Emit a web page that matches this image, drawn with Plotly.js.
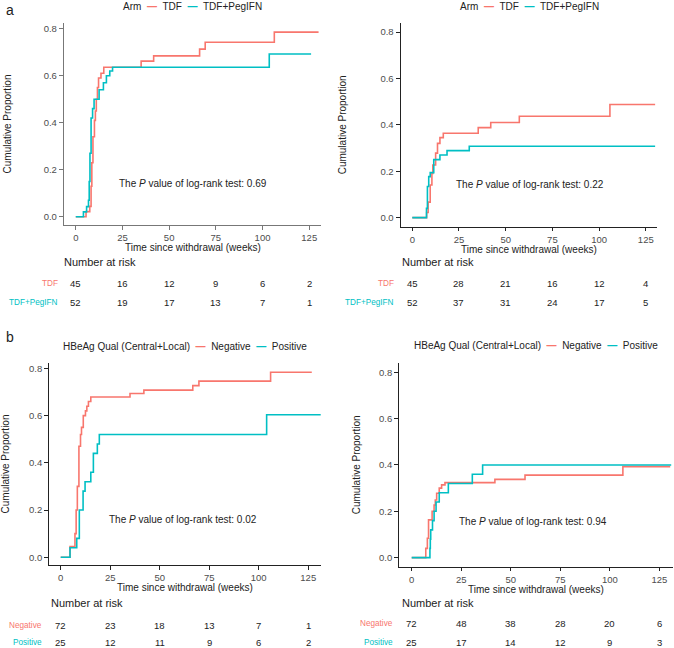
<!DOCTYPE html>
<html>
<head>
<meta charset="utf-8">
<script src="https://cdn.plot.ly/plotly-3.0.1.min.js"></script>
<style>html,body{margin:0;padding:0;background:#fff;} #chart{width:674px;height:648px;}</style>
</head>
<body>
<div id="chart"></div>
<script>
// ---------- data ----------
const riskTimes = [0, 25, 50, 75, 100, 125];
const armLabels = ['TDF', 'TDF+PegIFN'];
const hbeagLabels = ['Negative', 'Positive'];
const pValues = ['0.69', '0.22', '0.02', '0.94'];

// Panel a (left): Arm
const aL_tdf_t = [0, 5.5, 7.5, 8.2, 8.6, 9.2, 10.0, 10.5, 11.0, 11.6, 12.2, 13.5, 15.0, 35.0, 41.7, 66.3, 69.3, 106.3, 130];
const aL_tdf_p = [0, 0.022, 0.044, 0.13, 0.23, 0.34, 0.41, 0.45, 0.50, 0.55, 0.59, 0.61, 0.636, 0.662, 0.684, 0.713, 0.742, 0.785, 0.785];
const aL_peg_t = [0, 4.1, 5.8, 6.8, 7.2, 7.6, 8.2, 9.0, 9.8, 12.5, 14.8, 16.4, 18.2, 19.7, 103.6, 126];
const aL_peg_p = [0, 0.021, 0.043, 0.07, 0.15, 0.27, 0.42, 0.46, 0.50, 0.54, 0.57, 0.60, 0.62, 0.636, 0.692, 0.692];
const aL_risk_tdf = [45, 16, 12, 9, 6, 2];
const aL_risk_peg = [52, 19, 17, 13, 7, 1];

// Panel a (right): Arm
const aR_tdf_t = [0, 7.7, 8.5, 9.6, 10.5, 11.0, 12.5, 13.5, 14.8, 16.6, 35.3, 42.0, 57.3, 105.8, 130];
const aR_tdf_p = [0, 0.022, 0.067, 0.141, 0.19, 0.227, 0.278, 0.32, 0.345, 0.364, 0.388, 0.41, 0.437, 0.488, 0.488];
const aR_peg_t = [0, 7.6, 8.1, 8.8, 9.6, 11.5, 14.8, 18.6, 30.5, 130];
const aR_peg_p = [0, 0.04, 0.134, 0.177, 0.194, 0.25, 0.27, 0.289, 0.308, 0.308];
const aR_risk_tdf = [45, 28, 21, 16, 12, 4];
const aR_risk_peg = [52, 37, 31, 24, 17, 5];

// Panel b (left): HBeAg
const bL_neg_t = [0, 4.7, 7.2, 7.8, 8.4, 9.2, 10.0, 10.5, 11.4, 12.5, 13.2, 14.0, 15.2, 35.0, 42.0, 66.7, 69.8, 106.0, 126.8];
const bL_neg_p = [0, 0.045, 0.10, 0.20, 0.30, 0.47, 0.52, 0.55, 0.60, 0.62, 0.64, 0.66, 0.679, 0.694, 0.708, 0.727, 0.746, 0.784, 0.784];
const bL_pos_t = [0, 4.7, 8.1, 9.4, 11.3, 12.3, 15.2, 16.5, 18.5, 19.5, 104.0, 131.5];
const bL_pos_p = [0, 0.04, 0.08, 0.20, 0.28, 0.32, 0.36, 0.44, 0.48, 0.52, 0.604, 0.604];
const bL_risk_neg = [72, 23, 18, 13, 7, 1];
const bL_risk_pos = [25, 12, 11, 9, 6, 2];

// Panel b (right): HBeAg
const bR_neg_t = [0, 7.1, 7.9, 8.5, 10.3, 11.3, 11.9, 12.6, 13.9, 15.1, 16.8, 42.0, 57.2, 106.6, 130.5];
const bR_neg_p = [0, 0.04, 0.084, 0.163, 0.20, 0.227, 0.249, 0.278, 0.30, 0.314, 0.324, 0.338, 0.356, 0.393, 0.393];
const bR_pos_t = [0, 9.2, 9.4, 9.6, 10.5, 11.3, 12.3, 13.9, 18.5, 30.6, 35.8, 131];
const bR_pos_p = [0, 0.04, 0.08, 0.12, 0.16, 0.20, 0.24, 0.28, 0.32, 0.36, 0.40, 0.40];
const bR_risk_neg = [72, 48, 38, 28, 20, 6];
const bR_risk_pos = [25, 17, 14, 12, 9, 3];

// ---------- styling ----------
const RED = '#F8766D', TEAL = '#00BFC4';
const FONT = 'Liberation Sans, Arial, sans-serif';
const W = 674, H = 648;
const px = v => v / W;           // pixel -> paper x
const py = v => 1 - v / H;       // pixel -> paper y

function km(t, p, name, color, xa, ya) {
  return { x: t, y: p, name: name, type: 'scatter', mode: 'lines',
    line: { shape: 'hv', color: color, width: 1.6 },
    xaxis: xa, yaxis: ya, showlegend: false, hoverinfo: 'skip' };
}

const data = [
  km(aL_tdf_t, aL_tdf_p, armLabels[0], RED, 'x', 'y'),
  km(aL_peg_t, aL_peg_p, armLabels[1], TEAL, 'x', 'y'),
  km(aR_tdf_t, aR_tdf_p, armLabels[0], RED, 'x2', 'y2'),
  km(aR_peg_t, aR_peg_p, armLabels[1], TEAL, 'x2', 'y2'),
  km(bL_neg_t, bL_neg_p, hbeagLabels[0], RED, 'x3', 'y3'),
  km(bL_pos_t, bL_pos_p, hbeagLabels[1], TEAL, 'x3', 'y3'),
  km(bR_neg_t, bR_neg_p, hbeagLabels[0], RED, 'x4', 'y4'),
  km(bR_pos_t, bR_pos_p, hbeagLabels[1], TEAL, 'x4', 'y4')
];

function xAxis(domain, range, anchor, lc) {
  return { domain: domain, range: range, anchor: anchor, tickvals: riskTimes,
    showline: true, linecolor: lc, linewidth: 1.2, ticks: 'outside', ticklen: 3.5,
    tickcolor: lc, tickfont: { size: 9.5, color: '#4d4d4d', family: FONT },
    showgrid: false, zeroline: false };
}
function yAxis(domain, range, anchor, standoff, lc) {
  return { domain: domain, range: range, anchor: anchor,
    tickvals: [0, 0.2, 0.4, 0.6, 0.8], ticktext: ['0.0', '0.2', '0.4', '0.6', '0.8'],
    showline: true, linecolor: lc, linewidth: 1.2, ticks: 'outside', ticklen: 4,
    tickcolor: lc, tickfont: { size: 9.5, color: '#4d4d4d', family: FONT },
    showgrid: false, zeroline: false,
    title: { text: 'Cumulative Proportion', font: { size: 10, color: '#222', family: FONT }, standoff: standoff } };
}

const panels = [
  { xa: 'x', ya: 'y', p: pValues[0], pxy: [63, 0.14], riskY: 262, rows: [284, 302], labelX: 60, left: 62,
    labels: armLabels, risks: [aL_risk_tdf, aL_risk_peg], legTitle: 'Arm', legX: 192.5, legY: 6.5,
    xtitle: [193, 247.5] },
  { xa: 'x2', ya: 'y2', p: pValues[1], pxy: [63, 0.141], riskY: 262, rows: [283, 302], labelX: 396, left: 400,
    labels: armLabels, risks: [aR_risk_tdf, aR_risk_peg], legTitle: 'Arm', legX: 529, legY: 6.5,
    xtitle: [528.8, 250] },
  { xa: 'x3', ya: 'y3', p: pValues[2], pxy: [61.6, 0.158], riskY: 602.7, rows: [625, 642.7], labelX: 44, left: 49,
    labels: hbeagLabels, risks: [bL_risk_neg, bL_risk_pos], legTitle: 'HBeAg Qual (Central+Local)', legX: 185, legY: 346,
    xtitle: [185, 587.5] },
  { xa: 'x4', ya: 'y4', p: pValues[3], pxy: [61, 0.155], riskY: 602.7, rows: [623, 642.7], labelX: 395, left: 400,
    labels: hbeagLabels, risks: [bR_risk_neg, bR_risk_pos], legTitle: 'HBeAg Qual (Central+Local)', legX: 535.5, legY: 345.5,
    xtitle: [536, 589.5] }
];

const annotations = [];
const baseFont = { family: FONT, size: 10, color: '#222' };
panels.forEach(pn => {
  // x axis title
  annotations.push({ xref: 'paper', yref: 'paper', x: px(pn.xtitle[0]), y: py(pn.xtitle[1]), showarrow: false,
    xanchor: 'center', yanchor: 'middle', text: 'Time since withdrawal (weeks)', font: baseFont });
  // p-value text
  annotations.push({ xref: pn.xa, yref: pn.ya, x: pn.pxy[0], y: pn.pxy[1], showarrow: false,
    text: 'The <i>P</i> value of log-rank test: ' + pn.p, font: baseFont });
  // legend
  annotations.push({ xref: 'paper', yref: 'paper', x: px(pn.legX), y: py(pn.legY), showarrow: false,
    xanchor: 'center', yanchor: 'middle',
    text: pn.legTitle + '\u00a0\u00a0<span style="color:' + RED + '"><b>\u2014</b></span>\u00a0\u00a0' + pn.labels[0] +
      '\u00a0\u00a0<span style="color:' + TEAL + '"><b>\u2014</b></span>\u00a0\u00a0' + pn.labels[1],
    font: baseFont });
  // risk table title
  annotations.push({ xref: 'paper', yref: 'paper', x: px(pn.left), y: py(pn.riskY), showarrow: false,
    xanchor: 'left', yanchor: 'middle', text: 'Number at risk', font: { family: FONT, size: 11, color: '#222' } });
  // risk rows
  [RED, TEAL].forEach((col, gi) => {
    annotations.push({ xref: 'paper', yref: 'paper', x: px(pn.labelX), y: py(pn.rows[gi]), showarrow: false,
      xanchor: 'right', yanchor: 'middle', text: pn.labels[gi], font: { family: FONT, size: 8.2, color: col } });
    pn.risks[gi].forEach((n, k) => {
      annotations.push({ xref: pn.xa, yref: 'paper', x: riskTimes[k], y: py(pn.rows[gi]), showarrow: false,
        xanchor: 'center', yanchor: 'middle', text: String(n), font: { family: FONT, size: 9.5, color: '#222' } });
    });
  });
});
// panel letters
annotations.push({ xref: 'paper', yref: 'paper', x: px(9.5), y: py(10), showarrow: false, xanchor: 'center', yanchor: 'middle',
  text: 'a', font: { family: FONT, size: 14, color: '#222' } });
annotations.push({ xref: 'paper', yref: 'paper', x: px(9.5), y: py(337), showarrow: false, xanchor: 'center', yanchor: 'middle',
  text: 'b', font: { family: FONT, size: 14, color: '#222' } });

const layout = {
  width: W, height: H, margin: { l: 0, r: 0, t: 0, b: 0 },
  paper_bgcolor: '#fff', plot_bgcolor: '#fff', showlegend: false,
  font: baseFont,
  xaxis: xAxis([px(64), px(321)], [-6.3, 131.3], 'y', '#777'),
  yaxis: yAxis([py(225), py(23)], [-0.035, 0.824], 'x', 30, '#777'),
  xaxis2: xAxis([px(400.7), px(657)], [-6.2, 131], 'y2', '#222'),
  yaxis2: yAxis([py(226.7), py(23)], [-0.039, 0.839], 'x2', 31, '#222'),
  xaxis3: xAxis([px(49.3), px(320.7)], [-5.76, 131.3], 'y3', '#222'),
  yaxis3: yAxis([py(565), py(363)], [-0.033, 0.823], 'x3', 19, '#222'),
  xaxis4: xAxis([px(399.3), px(673)], [-6.26, 131.9], 'y4', '#222'),
  yaxis4: yAxis([py(566.7), py(363)], [-0.039, 0.840], 'x4', 16, '#222'),
  annotations: annotations
};

Plotly.newPlot('chart', data, layout, { staticPlot: true, responsive: false });
</script>
</body>
</html>
